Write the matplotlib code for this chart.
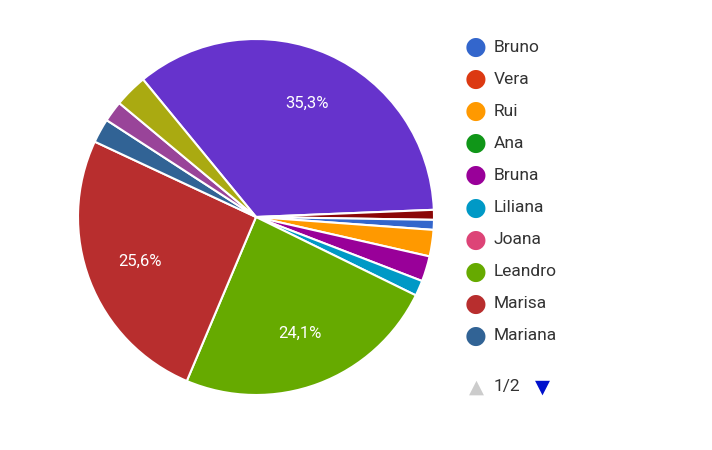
import matplotlib.pyplot as plt

# slices clockwise, starting at the upper-left edge of the big purple slice
slice_values = [35.3, 0.9, 0.9, 2.4, 2.3, 1.4, 24.1, 25.6, 2.2, 1.9, 3.0]
slice_colors = ["#6633cc", "#8b0707", "#3366cc", "#ff9900", "#990099", "#0099c6",
                "#66aa00", "#b82e2e", "#316395", "#994499", "#aaaa11"]

legend_names = ["Bruno", "Vera", "Rui", "Ana", "Bruna", "Liliana", "Joana",
                "Leandro", "Marisa", "Mariana"]
legend_colors = ["#3366cc", "#dc3912", "#ff9900", "#109618", "#990099", "#0099c6",
                 "#dd4477", "#66aa00", "#b82e2e", "#316395"]

fig = plt.figure(figsize=(7.12, 4.5), dpi=100)
ax = fig.add_axes([78 / 712, 1 - 395 / 450, 356 / 712, 356 / 450])


def fmt(p):
    return f"{p:.1f}%".replace(".", ",") if p > 10 else ""


wedges, texts, autotexts = ax.pie(
    slice_values, colors=slice_colors, startangle=129.4, counterclock=False,
    autopct=fmt, pctdistance=0.7,
    wedgeprops=dict(edgecolor="white", linewidth=1.5),
    textprops=dict(color="white", fontsize=12, family="Roboto"))
ax.set_xlim(-1, 1)
ax.set_ylim(-1, 1)
ax.set_aspect("equal")

# legend drawn by hand
for i, (name, col) in enumerate(zip(legend_names, legend_colors)):
    y = 1 - (47 + i * 32.1) / 450
    fig.text(476 / 712, y, "\u25CF", color=col, fontsize=18, ha="center", va="center")
    fig.text(494 / 712, y, name, color="#333333", fontsize=12.5, family="Roboto",
             ha="left", va="center")

fig.text(476 / 712, 1 - 387 / 450, "\u25B2", color="#cccccc", fontsize=14, ha="center", va="center")
fig.text(494 / 712, 1 - 387 / 450, "1/2", color="#333333", fontsize=12.5, family="Roboto",
         ha="left", va="center")
fig.text(542 / 712, 1 - 387 / 450, "\u25BC", color="#0011cc", fontsize=14, ha="center", va="center")

fig.savefig("out.png", dpi=100, facecolor="white")
